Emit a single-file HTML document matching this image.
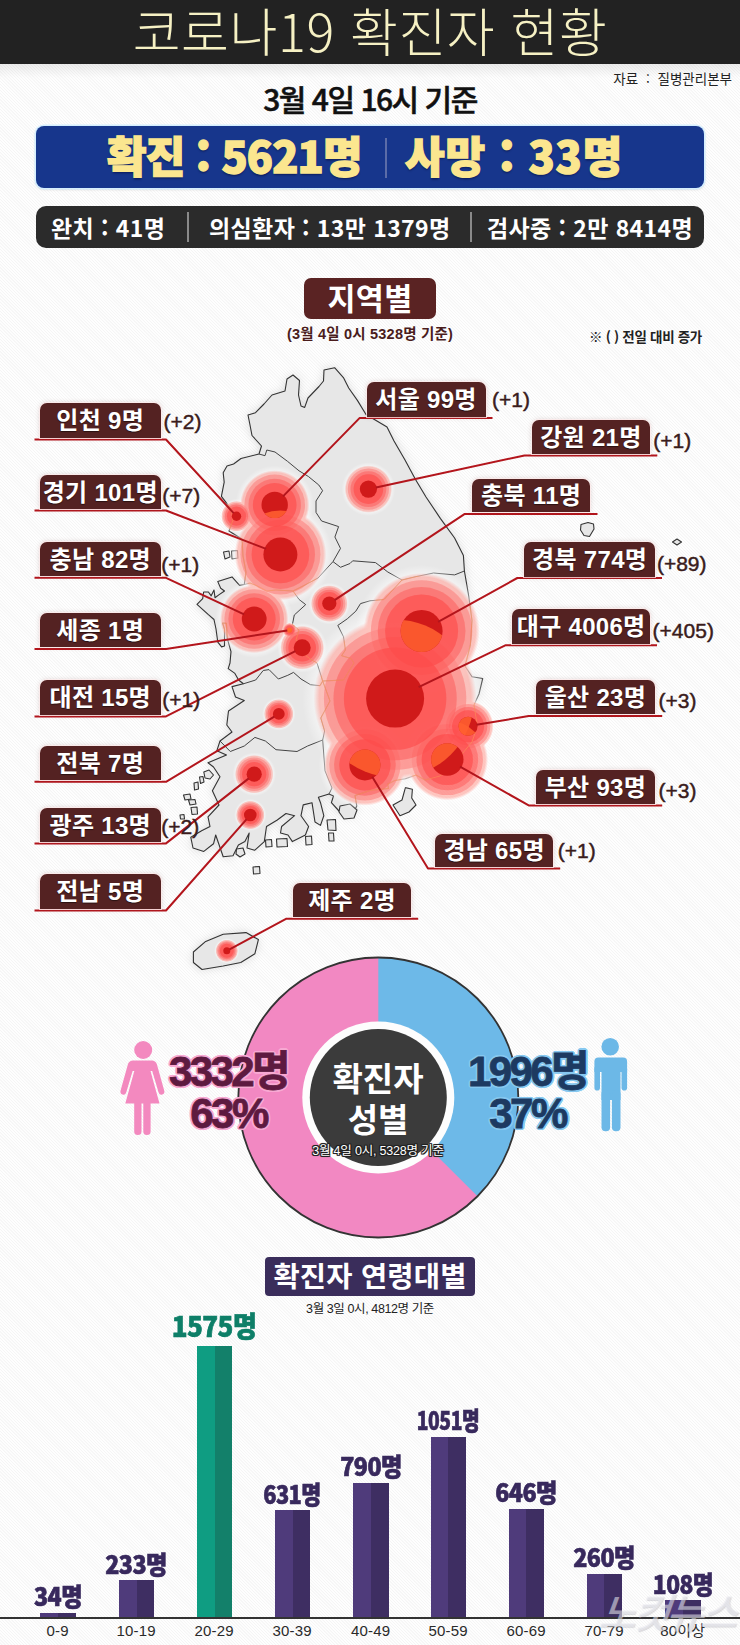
<!DOCTYPE html>
<html lang="ko"><head><meta charset="utf-8"><title>코로나19 확진자 현황</title>
<style>
html,body{margin:0;padding:0;}
body{width:740px;height:1645px;overflow:hidden;background:#f8f8f8;font-family:"Liberation Sans","Noto Sans CJK KR","NanumGothic",sans-serif;}
#wrap{position:relative;width:740px;height:1645px;overflow:hidden;background:#fafafa repeating-linear-gradient(45deg,#fefefe 0,#fefefe 1.1px,#f5f5f5 1.4px,#f5f5f5 2px,#fefefe 2.2px);}
.abs{position:absolute;white-space:nowrap;}
#hdr{left:0;top:0;width:740px;height:64px;background:#222222;color:#f6f1c4;text-align:center;font-family:"Noto Sans CJK KR","Liberation Sans",sans-serif;font-weight:300;font-size:52px;line-height:60px;letter-spacing:0.6px;}
#src{right:8px;top:70px;font-size:13.5px;word-spacing:4px;color:#222;font-family:"Noto Sans CJK KR",sans-serif;line-height:16px;}
#date{left:0;width:740px;top:80px;text-align:center;font-size:30px;font-weight:500;-webkit-text-stroke:0.5px #111;color:#111;font-family:"Noto Sans CJK KR",sans-serif;line-height:36px;letter-spacing:-1.5px;}
#blue{left:36px;top:126px;width:668px;height:62px;background:#17368c;border-radius:8px;box-shadow:0 0 0 1.5px #d5efff,0 1px 3px rgba(0,0,0,.25);}
#blue .t{color:#fbe68f;font-family:"Noto Sans CJK KR",sans-serif;font-weight:900;font-size:43px;line-height:62px;top:-3px;letter-spacing:-0.8px;-webkit-text-stroke:1.4px #fbe68f;text-shadow:0 2px 2px rgba(0,0,40,.45);}
#blue .sep{left:349px;top:12px;width:2px;height:40px;background:#5b6ca8;}
#dark{left:36px;top:206px;width:668px;height:42px;background:#2b2b2b;border-radius:10px;}
#dark .t{color:#fff;font-family:"Noto Sans CJK KR",sans-serif;font-weight:700;font-size:23px;line-height:42px;top:0;letter-spacing:0.4px;}
#dark .sep{top:6px;width:2px;height:30px;background:#8a8a8a;}
.ttl{background:#5a2323;color:#fff;border-radius:7px;text-align:center;font-family:"Noto Sans CJK KR",sans-serif;font-weight:700;}
.lb{background:#542222;border-radius:7px 7px 0 0;color:#fff;text-align:center;font-family:"Liberation Sans","Noto Sans CJK KR",sans-serif;font-weight:700;font-size:24px;letter-spacing:0.3px;text-shadow:0 1px 1px rgba(0,0,0,.5);box-shadow:0 0 0 1px rgba(255,235,235,.75),0 0 5px rgba(120,60,60,.25);}
.lb span{font-family:"Noto Sans CJK KR",sans-serif;}
.dl{font-family:"Liberation Sans",sans-serif;font-size:21px;color:#3a1c1c;letter-spacing:0;-webkit-text-stroke:0.45px #3a1c1c;}
</style></head><body><div id="wrap">

<svg class="abs" style="left:0;top:0" width="740" height="1645" viewBox="0 0 740 1645">
<defs>
<filter id="msh" x="-10%" y="-10%" width="120%" height="120%"><feGaussianBlur stdDeviation="5"/></filter>
<radialGradient id="halo"><stop offset="0" stop-color="#ff4a38" stop-opacity="1"/><stop offset=".93" stop-color="#ff4a38" stop-opacity="1"/><stop offset="1" stop-color="#ff4a38" stop-opacity="0"/></radialGradient>
<radialGradient id="wglow"><stop offset="0" stop-color="#fff" stop-opacity=".75"/><stop offset=".8" stop-color="#fff" stop-opacity=".7"/><stop offset="1" stop-color="#fff" stop-opacity="0"/></radialGradient>
</defs>
<g filter="url(#msh)" opacity=".35" fill="#999"><path d="M223.2 472.7 L227.0 466.0 L233.6 464.0 L241.0 458.5 L259.0 454.0 L261.5 446.0 L252.0 435.5 L250.0 425.0 L248.0 415.0 L255.5 412.7 L264.0 404.0 L272.0 395.0 L285.0 391.0 L287.0 379.0 L293.0 375.0 L299.5 380.5 L298.5 395.0 L301.0 406.0 L304.7 407.4 L308.0 398.0 L319.0 386.5 L323.5 381.0 L324.0 370.0 L334.6 367.7 L343.4 377.6 L348.7 388.0 L357.4 400.4 L366.0 414.5 L387.0 427.0 L394.0 441.0 L405.0 460.0 L415.5 479.5 L426.0 497.0 L440.5 518.6 L454.6 538.0 L463.4 555.5 L464.4 571.0 L468.7 596.0 L472.0 620.5 L470.4 645.0 L465.0 666.0 L472.0 676.8 L482.7 678.5 L479.0 694.0 L474.0 705.0 L477.4 726.0 L472.0 742.0 L462.0 754.0 L455.0 766.0 L440.0 776.0 L425.0 780.0 L416.0 775.0 L405.4 778.8 L394.9 780.5 L387.8 784.0 L388.4 788.5 L370.8 790.3 L355.0 795.5 L356.8 806.0 L351.5 816.6 L342.7 814.9 L339.0 811.0 L331.4 802.7 L333.5 796.0 L329.0 794.0 L318.4 797.3 L320.5 802.7 L323.8 815.7 L320.5 825.4 L315.0 822.0 L312.0 802.7 L303.2 804.9 L301.0 815.7 L308.6 826.5 L305.4 835.0 L292.4 841.6 L288.0 835.0 L280.5 833.0 L281.6 826.5 L294.6 815.7 L286.0 813.5 L277.3 820.0 L266.5 826.5 L264.3 841.6 L254.6 850.3 L247.0 848.0 L249.2 833.0 L244.9 841.6 L238.4 844.9 L233.0 855.7 L223.2 856.8 L215.7 835.0 L213.5 843.8 L203.8 851.4 L193.0 848.0 L190.8 837.3 L201.6 830.8 L210.0 826.5 L208.0 816.8 L219.0 805.0 L212.4 790.8 L220.0 776.8 L213.5 767.0 L208.0 762.7 L226.5 755.0 L216.8 750.8 L220.0 741.0 L232.0 732.0 L226.8 725.0 L228.5 711.0 L244.3 700.5 L235.5 697.0 L232.0 686.6 L243.4 683.8 L238.6 680.0 L234.9 673.4 L228.2 668.6 L230.0 663.0 L231.0 651.6 L227.3 638.4 L226.4 623.2 L222.6 623.0 L224.5 629.0 L224.5 646.0 L221.6 646.9 L217.8 642.2 L216.0 629.0 L214.0 619.5 L208.4 614.7 L197.0 604.3 L202.7 598.6 L203.6 592.0 L208.4 592.0 L211.2 595.8 L214.0 590.0 L215.0 597.7 L218.8 594.9 L224.5 591.0 L220.7 588.2 L217.8 581.6 L232.0 576.9 L239.6 585.4 L244.3 584.5 L246.0 572.0 L243.0 556.0 L242.0 539.0 L229.0 531.0 L233.0 520.0 L230.8 508.6 L221.4 496.3 L224.2 482.2 L223.2 472.7 Z"/><path d="M193.4 952.0 L205.7 941.4 L223.2 934.3 L246.0 932.6 L258.4 939.6 L254.9 953.7 L240.8 962.5 L223.2 966.0 L202.0 969.5 L193.4 962.5 Z"/></g>
<g fill="#e7e7e7" stroke="#333" stroke-width="1.1" stroke-linejoin="round">
<path d="M223.2 472.7 L227.0 466.0 L233.6 464.0 L241.0 458.5 L259.0 454.0 L261.5 446.0 L252.0 435.5 L250.0 425.0 L248.0 415.0 L255.5 412.7 L264.0 404.0 L272.0 395.0 L285.0 391.0 L287.0 379.0 L293.0 375.0 L299.5 380.5 L298.5 395.0 L301.0 406.0 L304.7 407.4 L308.0 398.0 L319.0 386.5 L323.5 381.0 L324.0 370.0 L334.6 367.7 L343.4 377.6 L348.7 388.0 L357.4 400.4 L366.0 414.5 L387.0 427.0 L394.0 441.0 L405.0 460.0 L415.5 479.5 L426.0 497.0 L440.5 518.6 L454.6 538.0 L463.4 555.5 L464.4 571.0 L468.7 596.0 L472.0 620.5 L470.4 645.0 L465.0 666.0 L472.0 676.8 L482.7 678.5 L479.0 694.0 L474.0 705.0 L477.4 726.0 L472.0 742.0 L462.0 754.0 L455.0 766.0 L440.0 776.0 L425.0 780.0 L416.0 775.0 L405.4 778.8 L394.9 780.5 L387.8 784.0 L388.4 788.5 L370.8 790.3 L355.0 795.5 L356.8 806.0 L351.5 816.6 L342.7 814.9 L339.0 811.0 L331.4 802.7 L333.5 796.0 L329.0 794.0 L318.4 797.3 L320.5 802.7 L323.8 815.7 L320.5 825.4 L315.0 822.0 L312.0 802.7 L303.2 804.9 L301.0 815.7 L308.6 826.5 L305.4 835.0 L292.4 841.6 L288.0 835.0 L280.5 833.0 L281.6 826.5 L294.6 815.7 L286.0 813.5 L277.3 820.0 L266.5 826.5 L264.3 841.6 L254.6 850.3 L247.0 848.0 L249.2 833.0 L244.9 841.6 L238.4 844.9 L233.0 855.7 L223.2 856.8 L215.7 835.0 L213.5 843.8 L203.8 851.4 L193.0 848.0 L190.8 837.3 L201.6 830.8 L210.0 826.5 L208.0 816.8 L219.0 805.0 L212.4 790.8 L220.0 776.8 L213.5 767.0 L208.0 762.7 L226.5 755.0 L216.8 750.8 L220.0 741.0 L232.0 732.0 L226.8 725.0 L228.5 711.0 L244.3 700.5 L235.5 697.0 L232.0 686.6 L243.4 683.8 L238.6 680.0 L234.9 673.4 L228.2 668.6 L230.0 663.0 L231.0 651.6 L227.3 638.4 L226.4 623.2 L222.6 623.0 L224.5 629.0 L224.5 646.0 L221.6 646.9 L217.8 642.2 L216.0 629.0 L214.0 619.5 L208.4 614.7 L197.0 604.3 L202.7 598.6 L203.6 592.0 L208.4 592.0 L211.2 595.8 L214.0 590.0 L215.0 597.7 L218.8 594.9 L224.5 591.0 L220.7 588.2 L217.8 581.6 L232.0 576.9 L239.6 585.4 L244.3 584.5 L246.0 572.0 L243.0 556.0 L242.0 539.0 L229.0 531.0 L233.0 520.0 L230.8 508.6 L221.4 496.3 L224.2 482.2 L223.2 472.7 Z"/>
<path d="M193.4 952.0 L205.7 941.4 L223.2 934.3 L246.0 932.6 L258.4 939.6 L254.9 953.7 L240.8 962.5 L223.2 966.0 L202.0 969.5 L193.4 962.5 Z"/>
<path d="M405.4 787.6 L412.4 789.3 L411.7 798.0 L416.0 805.0 L409.0 812.0 L400.0 815.7 L393.0 805.0 L402.0 800.0 Z"/>
<path d="M340.0 806.0 L350.0 804.0 L357.0 810.0 L354.0 818.0 L344.0 819.0 L339.0 812.0 Z"/>
<path d="M203.8 772.0 L209.0 770.0 L213.5 775.0 L210.0 779.0 L205.0 778.0 Z"/>
<path d="M199.5 777.0 L203.0 776.5 L204.0 782.0 L200.5 783.5 Z"/>
<path d="M194.0 783.0 L198.0 782.0 L198.5 789.0 L194.5 790.0 Z"/>
<path d="M183.5 795.0 L190.0 794.0 L191.0 799.0 L185.0 800.0 Z"/>
<path d="M188.5 800.0 L195.0 799.5 L196.0 804.0 L190.0 805.0 Z"/>
<path d="M191.0 807.5 L197.0 807.0 L197.5 814.0 L192.0 814.5 Z"/>
<path d="M180.0 815.0 L184.0 814.5 L184.5 819.0 L180.5 819.0 Z"/>
<path d="M236.5 849.0 L243.0 848.0 L245.0 854.0 L240.0 857.0 L236.0 854.0 Z"/>
<path d="M265.5 840.0 L271.5 839.5 L272.0 846.5 L266.0 847.0 Z"/>
<path d="M276.5 839.0 L287.0 838.5 L287.5 846.5 L277.0 847.0 Z"/>
<path d="M305.5 836.5 L311.5 836.0 L312.0 844.5 L306.0 845.0 Z"/>
<path d="M327.0 820.0 L335.5 819.5 L336.0 830.5 L328.0 830.0 Z"/>
<path d="M328.5 833.0 L333.5 833.0 L334.0 841.0 L329.0 841.0 Z"/>
<path d="M253.0 867.0 L259.5 866.5 L260.0 873.5 L253.5 874.0 Z"/>
<path d="M223.5 552.0 L229.0 551.0 L230.0 557.0 L225.0 559.0 Z"/>
<path d="M231.5 551.0 L237.5 550.5 L238.0 558.0 L232.0 559.0 Z"/>
<path d="M581.0 524.5 L588.0 522.5 L593.5 524.0 L594.0 529.0 L589.5 536.5 L584.0 535.5 L580.5 530.0 Z"/>
<path d="M672.5 542.0 L677.0 539.0 L681.5 542.0 L677.0 545.0 Z"/>
</g>
<g fill="none" stroke="#444" stroke-width="1" stroke-linejoin="round">
<path d="M259.0 454.0 L265.0 455.7 L266.8 450.0 L275.0 452.0 L287.6 461.4 L299.0 470.8 L308.4 476.5 L318.8 485.0 L322.6 490.7 L316.0 501.0 L316.0 512.4 L321.6 521.0 L338.6 526.6 L334.9 537.0 L340.5 548.4 L333.0 561.6 L340.5 567.3 L350.0 563.5"/>
<path d="M350.0 563.5 L352.7 560.8 L375.5 562.6 L387.8 572.0 L402.0 580.0 L416.0 576.6 L433.5 573.0 L454.6 574.9 L464.4 571.0"/>
<path d="M244.3 584.5 L250.0 583.0 L257.3 586.0 L266.8 591.0 L276.0 590.0 L293.0 591.0 L299.0 599.4 L305.7 604.6 L294.3 615.0 L292.4 624.5 L299.0 630.0"/>
<path d="M293.0 591.0 L305.0 585.0 L318.0 578.0 L333.0 561.6"/>
<path d="M402.0 580.0 L384.0 599.5 L370.0 600.8 L360.5 603.6 L355.8 611.2 L347.3 618.8 L337.8 625.4 L343.5 636.8 L345.4 650.0 L341.6 655.7 L351.0 658.5 L354.0 663.0 L343.5 680.0 L322.7 681.0"/>
<path d="M299.0 630.0 L296.0 640.0 L305.0 655.0 L311.0 659.5 L317.0 663.0 L322.7 681.0"/>
<path d="M243.4 683.8 L255.7 680.0 L263.2 670.5 L269.0 669.6 L278.4 679.0 L287.8 675.3 L293.5 672.4 L301.0 679.0 L310.5 684.7 L320.0 685.7 L322.7 681.0"/>
<path d="M220.0 741.0 L230.3 751.5 L244.3 746.0 L254.9 737.4 L265.4 741.0 L276.0 749.7 L297.0 751.5 L307.6 746.0 L322.7 740.0"/>
<path d="M322.7 681.0 L330.0 701.0 L320.8 718.0 L324.6 731.0 L322.7 740.0 L325.0 770.8 L332.0 788.0 L329.0 794.0"/>
</g>
<circle cx="289.6" cy="630.1" r="8.1" fill="url(#wglow)"/>
<circle cx="226.8" cy="950.8" r="12.8" fill="url(#wglow)"/>
<circle cx="250.3" cy="815.0" r="16.2" fill="url(#wglow)"/>
<circle cx="278.8" cy="713.9" r="16.8" fill="url(#wglow)"/>
<circle cx="236.5" cy="516.2" r="17.4" fill="url(#wglow)"/>
<circle cx="329.3" cy="603.6" r="20.9" fill="url(#wglow)"/>
<circle cx="254.2" cy="774.2" r="21.9" fill="url(#wglow)"/>
<circle cx="302.2" cy="647.7" r="24.9" fill="url(#wglow)"/>
<circle cx="368.4" cy="489.1" r="26.9" fill="url(#wglow)"/>
<circle cx="468.1" cy="726.2" r="29.0" fill="url(#wglow)"/>
<circle cx="254.2" cy="619.0" r="38.9" fill="url(#wglow)"/>
<circle cx="274.7" cy="504.9" r="39.4" fill="url(#wglow)"/>
<circle cx="447.3" cy="759.5" r="46.4" fill="url(#wglow)"/>
<circle cx="364.9" cy="764.9" r="46.4" fill="url(#wglow)"/>
<circle cx="280.4" cy="554.4" r="52.2" fill="url(#wglow)"/>
<circle cx="421.6" cy="631.0" r="66.1" fill="url(#wglow)"/>
<circle cx="395.1" cy="698.6" r="92.8" fill="url(#wglow)"/>
<g opacity=".31">
<circle cx="289.6" cy="630.1" r="7.1" fill="url(#halo)"/>
<circle cx="226.8" cy="950.8" r="11.2" fill="url(#halo)"/>
<circle cx="250.3" cy="815.0" r="14.3" fill="url(#halo)"/>
<circle cx="278.8" cy="713.9" r="14.8" fill="url(#halo)"/>
<circle cx="236.5" cy="516.2" r="15.3" fill="url(#halo)"/>
<circle cx="329.3" cy="603.6" r="18.4" fill="url(#halo)"/>
<circle cx="254.2" cy="774.2" r="19.3" fill="url(#halo)"/>
<circle cx="302.2" cy="647.7" r="21.9" fill="url(#halo)"/>
<circle cx="368.4" cy="489.1" r="23.7" fill="url(#halo)"/>
<circle cx="468.1" cy="726.2" r="25.5" fill="url(#halo)"/>
<circle cx="254.2" cy="619.0" r="34.2" fill="url(#halo)"/>
<circle cx="274.7" cy="504.9" r="34.7" fill="url(#halo)"/>
<circle cx="447.3" cy="759.5" r="40.8" fill="url(#halo)"/>
<circle cx="364.9" cy="764.9" r="40.8" fill="url(#halo)"/>
<circle cx="280.4" cy="554.4" r="45.9" fill="url(#halo)"/>
<circle cx="421.6" cy="631.0" r="58.1" fill="url(#halo)"/>
<circle cx="395.1" cy="698.6" r="81.6" fill="url(#halo)"/>
</g>
<g opacity="0.18" fill="#ff4040">
<circle cx="289.6" cy="630.1" r="6.2"/>
<circle cx="226.8" cy="950.8" r="9.8"/>
<circle cx="250.3" cy="815.0" r="12.5"/>
<circle cx="278.8" cy="713.9" r="12.9"/>
<circle cx="236.5" cy="516.2" r="13.3"/>
<circle cx="329.3" cy="603.6" r="16.0"/>
<circle cx="254.2" cy="774.2" r="16.8"/>
<circle cx="302.2" cy="647.7" r="19.1"/>
<circle cx="368.4" cy="489.1" r="20.6"/>
<circle cx="468.1" cy="726.2" r="22.2"/>
<circle cx="254.2" cy="619.0" r="29.8"/>
<circle cx="274.7" cy="504.9" r="30.3"/>
<circle cx="447.3" cy="759.5" r="35.6"/>
<circle cx="364.9" cy="764.9" r="35.6"/>
<circle cx="280.4" cy="554.4" r="40.0"/>
<circle cx="421.6" cy="631.0" r="50.7"/>
<circle cx="395.1" cy="698.6" r="71.2"/>
</g>
<g fill="#ff4040" fill-opacity="0.13">
<circle cx="289.6" cy="630.1" r="6.2"/>
<circle cx="226.8" cy="950.8" r="9.8"/>
<circle cx="250.3" cy="815.0" r="12.5"/>
<circle cx="278.8" cy="713.9" r="12.9"/>
<circle cx="236.5" cy="516.2" r="13.3"/>
<circle cx="329.3" cy="603.6" r="16.0"/>
<circle cx="254.2" cy="774.2" r="16.8"/>
<circle cx="302.2" cy="647.7" r="19.1"/>
<circle cx="368.4" cy="489.1" r="20.6"/>
<circle cx="468.1" cy="726.2" r="22.2"/>
<circle cx="254.2" cy="619.0" r="29.8"/>
<circle cx="274.7" cy="504.9" r="30.3"/>
<circle cx="447.3" cy="759.5" r="35.6"/>
<circle cx="364.9" cy="764.9" r="35.6"/>
<circle cx="280.4" cy="554.4" r="40.0"/>
<circle cx="421.6" cy="631.0" r="50.7"/>
<circle cx="395.1" cy="698.6" r="71.2"/>
</g>
<g opacity="0.22" fill="#ff4040">
<circle cx="289.6" cy="630.1" r="5.4"/>
<circle cx="226.8" cy="950.8" r="8.5"/>
<circle cx="250.3" cy="815.0" r="10.8"/>
<circle cx="278.8" cy="713.9" r="11.2"/>
<circle cx="236.5" cy="516.2" r="11.6"/>
<circle cx="329.3" cy="603.6" r="13.9"/>
<circle cx="254.2" cy="774.2" r="14.6"/>
<circle cx="302.2" cy="647.7" r="16.6"/>
<circle cx="368.4" cy="489.1" r="17.9"/>
<circle cx="468.1" cy="726.2" r="19.2"/>
<circle cx="254.2" cy="619.0" r="25.8"/>
<circle cx="274.7" cy="504.9" r="26.2"/>
<circle cx="447.3" cy="759.5" r="30.8"/>
<circle cx="364.9" cy="764.9" r="30.8"/>
<circle cx="280.4" cy="554.4" r="34.6"/>
<circle cx="421.6" cy="631.0" r="43.9"/>
<circle cx="395.1" cy="698.6" r="61.6"/>
</g>
<g fill="#ff4040" fill-opacity="0.18">
<circle cx="289.6" cy="630.1" r="5.4"/>
<circle cx="226.8" cy="950.8" r="8.5"/>
<circle cx="250.3" cy="815.0" r="10.8"/>
<circle cx="278.8" cy="713.9" r="11.2"/>
<circle cx="236.5" cy="516.2" r="11.6"/>
<circle cx="329.3" cy="603.6" r="13.9"/>
<circle cx="254.2" cy="774.2" r="14.6"/>
<circle cx="302.2" cy="647.7" r="16.6"/>
<circle cx="368.4" cy="489.1" r="17.9"/>
<circle cx="468.1" cy="726.2" r="19.2"/>
<circle cx="254.2" cy="619.0" r="25.8"/>
<circle cx="274.7" cy="504.9" r="26.2"/>
<circle cx="447.3" cy="759.5" r="30.8"/>
<circle cx="364.9" cy="764.9" r="30.8"/>
<circle cx="280.4" cy="554.4" r="34.6"/>
<circle cx="421.6" cy="631.0" r="43.9"/>
<circle cx="395.1" cy="698.6" r="61.6"/>
</g>
<g opacity="0.31" fill="#ff4040">
<circle cx="289.6" cy="630.1" r="4.5"/>
<circle cx="226.8" cy="950.8" r="7.0"/>
<circle cx="250.3" cy="815.0" r="9.0"/>
<circle cx="278.8" cy="713.9" r="9.3"/>
<circle cx="236.5" cy="516.2" r="9.6"/>
<circle cx="329.3" cy="603.6" r="11.5"/>
<circle cx="254.2" cy="774.2" r="12.1"/>
<circle cx="302.2" cy="647.7" r="13.8"/>
<circle cx="368.4" cy="489.1" r="14.8"/>
<circle cx="468.1" cy="726.2" r="16.0"/>
<circle cx="254.2" cy="619.0" r="21.4"/>
<circle cx="274.7" cy="504.9" r="21.8"/>
<circle cx="447.3" cy="759.5" r="25.6"/>
<circle cx="364.9" cy="764.9" r="25.6"/>
<circle cx="280.4" cy="554.4" r="28.8"/>
<circle cx="421.6" cy="631.0" r="36.5"/>
<circle cx="395.1" cy="698.6" r="51.2"/>
</g>
<g fill="#ff4040" fill-opacity="0.28">
<circle cx="289.6" cy="630.1" r="4.5"/>
<circle cx="226.8" cy="950.8" r="7.0"/>
<circle cx="250.3" cy="815.0" r="9.0"/>
<circle cx="278.8" cy="713.9" r="9.3"/>
<circle cx="236.5" cy="516.2" r="9.6"/>
<circle cx="329.3" cy="603.6" r="11.5"/>
<circle cx="254.2" cy="774.2" r="12.1"/>
<circle cx="302.2" cy="647.7" r="13.8"/>
<circle cx="368.4" cy="489.1" r="14.8"/>
<circle cx="468.1" cy="726.2" r="16.0"/>
<circle cx="254.2" cy="619.0" r="21.4"/>
<circle cx="274.7" cy="504.9" r="21.8"/>
<circle cx="447.3" cy="759.5" r="25.6"/>
<circle cx="364.9" cy="764.9" r="25.6"/>
<circle cx="280.4" cy="554.4" r="28.8"/>
<circle cx="421.6" cy="631.0" r="36.5"/>
<circle cx="395.1" cy="698.6" r="51.2"/>
</g>
<defs><clipPath id="cp-all"><circle cx="289.6" cy="630.1" r="6.8"/><circle cx="226.8" cy="950.8" r="10.7"/><circle cx="250.3" cy="815.0" r="13.6"/><circle cx="278.8" cy="713.9" r="14.1"/><circle cx="236.5" cy="516.2" r="14.5"/><circle cx="329.3" cy="603.6" r="17.5"/><circle cx="254.2" cy="774.2" r="18.3"/><circle cx="302.2" cy="647.7" r="20.9"/><circle cx="368.4" cy="489.1" r="22.5"/><circle cx="468.1" cy="726.2" r="24.2"/><circle cx="254.2" cy="619.0" r="32.5"/><circle cx="274.7" cy="504.9" r="33.0"/><circle cx="447.3" cy="759.5" r="38.8"/><circle cx="364.9" cy="764.9" r="38.8"/><circle cx="280.4" cy="554.4" r="43.6"/><circle cx="421.6" cy="631.0" r="55.3"/><circle cx="395.1" cy="698.6" r="77.6"/></clipPath></defs>
<g clip-path="url(#cp-all)" fill="none" stroke="#ff9a5c" stroke-opacity=".6" stroke-width="0.9" stroke-linejoin="round">
<path d="M223.2 472.7 L227.0 466.0 L233.6 464.0 L241.0 458.5 L259.0 454.0 L261.5 446.0 L252.0 435.5 L250.0 425.0 L248.0 415.0 L255.5 412.7 L264.0 404.0 L272.0 395.0 L285.0 391.0 L287.0 379.0 L293.0 375.0 L299.5 380.5 L298.5 395.0 L301.0 406.0 L304.7 407.4 L308.0 398.0 L319.0 386.5 L323.5 381.0 L324.0 370.0 L334.6 367.7 L343.4 377.6 L348.7 388.0 L357.4 400.4 L366.0 414.5 L387.0 427.0 L394.0 441.0 L405.0 460.0 L415.5 479.5 L426.0 497.0 L440.5 518.6 L454.6 538.0 L463.4 555.5 L464.4 571.0 L468.7 596.0 L472.0 620.5 L470.4 645.0 L465.0 666.0 L472.0 676.8 L482.7 678.5 L479.0 694.0 L474.0 705.0 L477.4 726.0 L472.0 742.0 L462.0 754.0 L455.0 766.0 L440.0 776.0 L425.0 780.0 L416.0 775.0 L405.4 778.8 L394.9 780.5 L387.8 784.0 L388.4 788.5 L370.8 790.3 L355.0 795.5 L356.8 806.0 L351.5 816.6 L342.7 814.9 L339.0 811.0 L331.4 802.7 L333.5 796.0 L329.0 794.0 L318.4 797.3 L320.5 802.7 L323.8 815.7 L320.5 825.4 L315.0 822.0 L312.0 802.7 L303.2 804.9 L301.0 815.7 L308.6 826.5 L305.4 835.0 L292.4 841.6 L288.0 835.0 L280.5 833.0 L281.6 826.5 L294.6 815.7 L286.0 813.5 L277.3 820.0 L266.5 826.5 L264.3 841.6 L254.6 850.3 L247.0 848.0 L249.2 833.0 L244.9 841.6 L238.4 844.9 L233.0 855.7 L223.2 856.8 L215.7 835.0 L213.5 843.8 L203.8 851.4 L193.0 848.0 L190.8 837.3 L201.6 830.8 L210.0 826.5 L208.0 816.8 L219.0 805.0 L212.4 790.8 L220.0 776.8 L213.5 767.0 L208.0 762.7 L226.5 755.0 L216.8 750.8 L220.0 741.0 L232.0 732.0 L226.8 725.0 L228.5 711.0 L244.3 700.5 L235.5 697.0 L232.0 686.6 L243.4 683.8 L238.6 680.0 L234.9 673.4 L228.2 668.6 L230.0 663.0 L231.0 651.6 L227.3 638.4 L226.4 623.2 L222.6 623.0 L224.5 629.0 L224.5 646.0 L221.6 646.9 L217.8 642.2 L216.0 629.0 L214.0 619.5 L208.4 614.7 L197.0 604.3 L202.7 598.6 L203.6 592.0 L208.4 592.0 L211.2 595.8 L214.0 590.0 L215.0 597.7 L218.8 594.9 L224.5 591.0 L220.7 588.2 L217.8 581.6 L232.0 576.9 L239.6 585.4 L244.3 584.5 L246.0 572.0 L243.0 556.0 L242.0 539.0 L229.0 531.0 L233.0 520.0 L230.8 508.6 L221.4 496.3 L224.2 482.2 L223.2 472.7 Z"/>
<path d="M259.0 454.0 L265.0 455.7 L266.8 450.0 L275.0 452.0 L287.6 461.4 L299.0 470.8 L308.4 476.5 L318.8 485.0 L322.6 490.7 L316.0 501.0 L316.0 512.4 L321.6 521.0 L338.6 526.6 L334.9 537.0 L340.5 548.4 L333.0 561.6 L340.5 567.3 L350.0 563.5"/>
<path d="M350.0 563.5 L352.7 560.8 L375.5 562.6 L387.8 572.0 L402.0 580.0 L416.0 576.6 L433.5 573.0 L454.6 574.9 L464.4 571.0"/>
<path d="M244.3 584.5 L250.0 583.0 L257.3 586.0 L266.8 591.0 L276.0 590.0 L293.0 591.0 L299.0 599.4 L305.7 604.6 L294.3 615.0 L292.4 624.5 L299.0 630.0"/>
<path d="M293.0 591.0 L305.0 585.0 L318.0 578.0 L333.0 561.6"/>
<path d="M402.0 580.0 L384.0 599.5 L370.0 600.8 L360.5 603.6 L355.8 611.2 L347.3 618.8 L337.8 625.4 L343.5 636.8 L345.4 650.0 L341.6 655.7 L351.0 658.5 L354.0 663.0 L343.5 680.0 L322.7 681.0"/>
<path d="M299.0 630.0 L296.0 640.0 L305.0 655.0 L311.0 659.5 L317.0 663.0 L322.7 681.0"/>
<path d="M243.4 683.8 L255.7 680.0 L263.2 670.5 L269.0 669.6 L278.4 679.0 L287.8 675.3 L293.5 672.4 L301.0 679.0 L310.5 684.7 L320.0 685.7 L322.7 681.0"/>
<path d="M220.0 741.0 L230.3 751.5 L244.3 746.0 L254.9 737.4 L265.4 741.0 L276.0 749.7 L297.0 751.5 L307.6 746.0 L322.7 740.0"/>
<path d="M322.7 681.0 L330.0 701.0 L320.8 718.0 L324.6 731.0 L322.7 740.0 L325.0 770.8 L332.0 788.0 L329.0 794.0"/>
</g>
<circle cx="289.6" cy="630.1" r="2.6" fill="#ff6a2c"/>
<circle cx="226.8" cy="950.8" r="3.5" fill="#d01a1a"/>
<circle cx="250.3" cy="815.0" r="6.3" fill="#d01a1a"/>
<circle cx="278.8" cy="713.9" r="5.9" fill="#d01a1a"/>
<circle cx="236.5" cy="516.2" r="4.7" fill="#d01a1a"/>
<circle cx="329.3" cy="603.6" r="7.1" fill="#d01a1a"/>
<circle cx="254.2" cy="774.2" r="7.6" fill="#d01a1a"/>
<circle cx="302.2" cy="647.7" r="8.5" fill="#d01a1a"/>
<circle cx="368.4" cy="489.1" r="8.6" fill="#d01a1a"/>
<circle cx="468.1" cy="726.2" r="9.5" fill="#d01a1a"/>
<circle cx="254.2" cy="619.0" r="12.4" fill="#d01a1a"/>
<circle cx="274.7" cy="504.9" r="13.2" fill="#d01a1a"/>
<circle cx="447.3" cy="759.5" r="16.2" fill="#d01a1a"/>
<circle cx="364.9" cy="764.9" r="15.5" fill="#d01a1a"/>
<circle cx="280.4" cy="554.4" r="17.0" fill="#d01a1a"/>
<circle cx="421.6" cy="631.0" r="21.0" fill="#d01a1a"/>
<circle cx="395.1" cy="698.6" r="29.0" fill="#d01a1a"/>
<defs><clipPath id="cp-busan"><circle cx="447.3" cy="759.5" r="39.0"/></clipPath><clipPath id="cp-daegu"><circle cx="395.1" cy="698.6" r="79.0"/></clipPath><clipPath id="cp-daejeon"><circle cx="302.2" cy="647.7" r="20.5"/></clipPath><clipPath id="cp-gyeonggi"><circle cx="280.4" cy="554.4" r="44.0"/></clipPath></defs>
<circle cx="289.6" cy="630.1" r="2.6" fill="#ff6030" fill-opacity=".88" clip-path="url(#cp-daejeon)"/>
<circle cx="468.1" cy="726.2" r="9.5" fill="#ff6030" fill-opacity=".88" clip-path="url(#cp-busan)"/>
<circle cx="468.1" cy="726.2" r="9.5" fill="#ff6030" fill-opacity=".88" clip-path="url(#cp-daegu)"/>
<circle cx="274.7" cy="504.9" r="13.2" fill="#ff6030" fill-opacity=".88" clip-path="url(#cp-gyeonggi)"/>
<circle cx="447.3" cy="759.5" r="16.2" fill="#ff6030" fill-opacity=".88" clip-path="url(#cp-daegu)"/>
<circle cx="364.9" cy="764.9" r="15.5" fill="#ff6030" fill-opacity=".88" clip-path="url(#cp-daegu)"/>
<circle cx="421.6" cy="631.0" r="21.0" fill="#ff6030" fill-opacity=".88" clip-path="url(#cp-daegu)"/>
<g stroke="#b3151c" stroke-width="2" fill="none" stroke-linejoin="round">
<path d="M34.5 439.5 L166.0 439.5 L233.6 513.1"/>
<path d="M34.5 510.5 L166.0 510.5 L266.1 548.9"/>
<path d="M34.5 577.8 L166.0 577.8 L244.1 614.3"/>
<path d="M34.5 648.9 L166.0 648.9 L287.3 630.5"/>
<path d="M34.5 716.4 L166.0 716.4 L295.4 651.1"/>
<path d="M34.5 781.8 L166.0 781.8 L274.3 716.6"/>
<path d="M34.5 843.4 L166.0 843.4 L248.8 778.4"/>
<path d="M34.5 910.5 L166.0 910.5 L246.5 819.3"/>
<path d="M492.5 418.1 L359.5 418.1 L283.0 496.4"/>
<path d="M657.3 455.4 L524.5 455.4 L376.0 487.5"/>
<path d="M597.5 513.9 L464.8 513.9 L334.6 600.1"/>
<path d="M662.0 578.0 L517.3 578.0 L438.1 621.8"/>
<path d="M657.0 645.3 L505.3 645.3 L418.6 687.2"/>
<path d="M662.2 716.0 L528.7 716.0 L476.5 724.8"/>
<path d="M662.2 805.4 L528.7 805.4 L460.0 766.7"/>
<path d="M560.2 868.5 L428.0 868.5 L372.2 776.8"/>
<path d="M418.2 918.8 L286.0 918.8 L229.6 949.3"/>
</g>
</svg>
<div class="abs" style="left:0;top:64px;width:740px;height:14px;background:linear-gradient(180deg,rgba(0,0,0,.07),rgba(0,0,0,0));"></div>
<div id="hdr" class="abs">코로나19 확진자 현황</div>
<div id="src" class="abs">자료 : 질병관리본부</div>
<div id="date" class="abs">3월 4일 16시 기준</div>
<div id="blue" class="abs"><div class="abs t" style="left:71px">확진 : 5621명</div><div class="abs sep"></div><div class="abs t" style="left:369px;letter-spacing:1px">사망 : 33명</div></div>
<div id="dark" class="abs"><div class="abs t" style="left:15px">완치 : 41명</div><div class="abs sep" style="left:151px"></div><div class="abs t" style="left:173px">의심환자 : 13만 1379명</div><div class="abs sep" style="left:434px"></div><div class="abs t" style="left:451px">검사중 : 2만 8414명</div></div>
<div class="abs ttl" style="left:304px;top:278px;width:132px;height:41px;font-size:30.5px;line-height:39px;letter-spacing:0.3px;">지역별</div>
<div class="abs" style="left:0;width:740px;text-align:center;top:325px;font-size:14.5px;font-weight:700;color:#4a1c1c;font-family:'Liberation Sans','Noto Sans CJK KR',sans-serif;letter-spacing:0.2px;line-height:18px;">(3월 4일 0시 5328명 기준)</div>
<div class="abs" style="right:38px;top:328px;font-size:13.5px;color:#222;font-weight:700;font-family:'Noto Sans CJK KR',sans-serif;letter-spacing:-0.3px;line-height:16px;">※ ( ) 전일 대비 증가</div>
<div class="abs lb" style="left:40.0px;top:402.5px;width:120.5px;height:35.5px;line-height:36.5px;">인천 9명</div>
<div class="abs dl" style="left:163.6px;top:409.5px;line-height:24px;">(+2)</div>
<div class="abs lb" style="left:40.0px;top:474.5px;width:120.5px;height:34.5px;line-height:35.5px;">경기 101명</div>
<div class="abs dl" style="left:162.3px;top:483.9px;line-height:24px;">(+7)</div>
<div class="abs lb" style="left:40.0px;top:542.3px;width:120.5px;height:34.0px;line-height:35.0px;">충남 82명</div>
<div class="abs dl" style="left:161.3px;top:552.5px;line-height:24px;">(+1)</div>
<div class="abs lb" style="left:40.0px;top:612.7px;width:120.5px;height:34.7px;line-height:35.7px;">세종 1명</div>
<div class="abs lb" style="left:40.0px;top:680.0px;width:120.5px;height:34.9px;line-height:35.9px;">대전 15명</div>
<div class="abs dl" style="left:162.3px;top:688.1px;line-height:24px;">(+1)</div>
<div class="abs lb" style="left:40.0px;top:745.6px;width:120.5px;height:34.7px;line-height:35.7px;">전북 7명</div>
<div class="abs lb" style="left:40.0px;top:807.8px;width:120.5px;height:34.1px;line-height:35.1px;">광주 13명</div>
<div class="abs dl" style="left:161.3px;top:815.4px;line-height:24px;">(+2)</div>
<div class="abs lb" style="left:40.0px;top:873.7px;width:120.5px;height:35.3px;line-height:36.3px;">전남 5명</div>
<div class="abs lb" style="left:366.5px;top:381.6px;width:119.0px;height:35.0px;line-height:36.0px;">서울 99명</div>
<div class="abs dl" style="left:492.1px;top:388.3px;line-height:24px;">(+1)</div>
<div class="abs lb" style="left:531.5px;top:419.8px;width:118.8px;height:34.1px;line-height:35.1px;">강원 21명</div>
<div class="abs dl" style="left:653.3px;top:428.5px;line-height:24px;">(+1)</div>
<div class="abs lb" style="left:471.8px;top:478.5px;width:118.7px;height:33.9px;line-height:34.9px;">충북 11명</div>
<div class="abs lb" style="left:524.3px;top:542.0px;width:130.7px;height:34.5px;line-height:35.5px;">경북 774명</div>
<div class="abs dl" style="left:656.9px;top:551.8px;line-height:24px;">(+89)</div>
<div class="abs lb" style="left:512.3px;top:609.0px;width:137.7px;height:34.8px;line-height:35.8px;">대구 4006명</div>
<div class="abs dl" style="left:652.6px;top:618.5px;line-height:24px;">(+405)</div>
<div class="abs lb" style="left:535.7px;top:680.4px;width:119.5px;height:34.1px;line-height:35.1px;">울산 23명</div>
<div class="abs dl" style="left:658.6px;top:688.9px;line-height:24px;">(+3)</div>
<div class="abs lb" style="left:535.7px;top:769.6px;width:119.5px;height:34.3px;line-height:35.3px;">부산 93명</div>
<div class="abs dl" style="left:658.6px;top:779.1px;line-height:24px;">(+3)</div>
<div class="abs lb" style="left:435.0px;top:833.5px;width:118.2px;height:33.5px;line-height:34.5px;">경남 65명</div>
<div class="abs dl" style="left:557.8px;top:839.2px;line-height:24px;">(+1)</div>
<div class="abs lb" style="left:293.0px;top:882.8px;width:118.2px;height:34.5px;line-height:35.5px;">제주 2명</div>
<svg class="abs" style="left:0;top:940px" width="740" height="320" viewBox="0 940 740 320">
<circle cx="378.3" cy="1097.5" r="140" fill="#f288c2"/>
<path d="M378.3 1097.5 L378.3 957.5 A140 140 0 0 1 477.5 1196.2 Z" fill="#6db9e8"/>
<circle cx="378.3" cy="1097.5" r="140" fill="none" stroke="#333" stroke-width="1.8"/>
<circle cx="378.3" cy="1097.5" r="76" fill="#fdfdfd"/>
<circle cx="378.3" cy="1097.5" r="68.5" fill="#3b3b3b"/>
<g fill="#f389bf"><circle cx="143.2" cy="1050" r="9"/><path d="M134.500 1060.400 h17.400 q3.600 0 4.900 3.600 l7.400 26.500 q.9 3.200-1.900 4.100 q-2.800.9-3.800-2.300 l-6.300-21.400 h-1.700 l9 32.700 h-8.900 v27.900 q0 3.500-3.700 3.500 q-3.600 0-3.600-3.500 v-27.900 h-1.800 v27.900 q0 3.500-3.600 3.500 q-3.700 0-3.700-3.500 v-27.900 h-8.900 l9-32.700 h-1.700 l-6.300 21.400 q-1 3.200-3.800 2.300 q-2.800-.9-1.900-4.100 l7.400-26.500 q1.300-3.600 4.900-3.600 z"/></g>
<g fill="#6cb8e7"><circle cx="610.2" cy="1046.8" r="8.8"/><path d="M598.400 1057.400 h24.700 q4 0 4 4 v10.600 h-32.700 v-10.600 q0-4 4-4 z"/><rect x="594.4" y="1066" width="5.600" height="24.600" rx="2.800"/><rect x="621.5" y="1066" width="5.600" height="24.600" rx="2.800"/><rect x="601.5" y="1060" width="19" height="40"/><rect x="601.5" y="1090" width="8.600" height="41.200" rx="4"/><rect x="611.9" y="1090" width="8.600" height="41.200" rx="4"/></g>
</svg>
<div class="abs" style="left:308px;width:140px;top:1056.5px;text-align:center;color:#fff;font-family:'Noto Sans CJK KR',sans-serif;font-weight:700;font-size:33px;line-height:41px;letter-spacing:0;">확진자<br>성별</div>
<div class="abs" style="left:278px;width:200px;top:1143.5px;text-align:center;color:#fff;font-family:'Liberation Sans','Noto Sans CJK KR',sans-serif;font-size:12.5px;line-height:14px;letter-spacing:-0.2px;text-shadow:1px 0 0 #222,-1px 0 0 #222,0 1px 0 #222,0 -1px 0 #222,1px 1px 0 #222,-1px -1px 0 #222,1px -1px 0 #222,-1px 1px 0 #222,0 0 2px #000;">3월 4일 0시, 5328명 기준</div>
<div class="abs" style="left:150px;width:157px;top:1051px;font-family:'Liberation Sans','Noto Sans CJK KR',sans-serif;font-weight:700;font-size:42px;line-height:41.5px;letter-spacing:-2.6px;text-align:center;color:#5e1a40;-webkit-text-stroke:0.8px #5e1a40;text-shadow:2.0px 0.0px 0 #f8a9d3,1.8px 0.8px 0 #f8a9d3,1.4px 1.4px 0 #f8a9d3,0.8px 1.8px 0 #f8a9d3,0.0px 2.0px 0 #f8a9d3,-0.8px 1.8px 0 #f8a9d3,-1.4px 1.4px 0 #f8a9d3,-1.8px 0.8px 0 #f8a9d3,-2.0px 0.0px 0 #f8a9d3,-1.8px -0.8px 0 #f8a9d3,-1.4px -1.4px 0 #f8a9d3,-0.8px -1.8px 0 #f8a9d3,-0.0px -2.0px 0 #f8a9d3,0.8px -1.8px 0 #f8a9d3,1.4px -1.4px 0 #f8a9d3,1.8px -0.8px 0 #f8a9d3,0 0 3px #f8a9d3;">3332명<br>63%</div>
<div class="abs" style="left:449px;width:157px;top:1051px;font-family:'Liberation Sans','Noto Sans CJK KR',sans-serif;font-weight:700;font-size:42px;line-height:41.5px;letter-spacing:-2.6px;text-align:center;color:#1d3a61;-webkit-text-stroke:0.8px #1d3a61;text-shadow:2.0px 0.0px 0 #86c8f0,1.8px 0.8px 0 #86c8f0,1.4px 1.4px 0 #86c8f0,0.8px 1.8px 0 #86c8f0,0.0px 2.0px 0 #86c8f0,-0.8px 1.8px 0 #86c8f0,-1.4px 1.4px 0 #86c8f0,-1.8px 0.8px 0 #86c8f0,-2.0px 0.0px 0 #86c8f0,-1.8px -0.8px 0 #86c8f0,-1.4px -1.4px 0 #86c8f0,-0.8px -1.8px 0 #86c8f0,-0.0px -2.0px 0 #86c8f0,0.8px -1.8px 0 #86c8f0,1.4px -1.4px 0 #86c8f0,1.8px -0.8px 0 #86c8f0,0 0 3px #86c8f0;">1996명<br>37%</div>
<div class="abs" style="left:265px;top:1257px;width:210px;height:39px;background:#3a2d5b;border-radius:4px;color:#fff;text-align:center;font-family:'Noto Sans CJK KR',sans-serif;font-weight:700;font-size:28.5px;line-height:36px;letter-spacing:0.2px;">확진자 연령대별</div>
<div class="abs" style="left:0;width:740px;top:1301px;text-align:center;color:#222;font-family:'Liberation Sans','Noto Sans CJK KR',sans-serif;font-size:12.5px;line-height:16px;letter-spacing:-0.4px;">3월 3일 0시, 4812명 기준</div>
<div class="abs" style="left:40.0px;top:1612.5px;width:35.5px;height:6.0px;background:linear-gradient(90deg,#4f3b7b 0,#4f3b7b 50%,#3e2e62 50%,#3e2e62 100%);"></div>
<div class="abs" style="left:-12.3px;width:140px;top:1580.2px;text-align:center;color:#38295d;font-family:'Noto Sans CJK KR',sans-serif;font-weight:900;font-size:25px;line-height:30px;letter-spacing:-0.6px;-webkit-text-stroke:0.7px currentColor;transform:scaleX(0.93);">34명</div>
<div class="abs" style="left:-12.3px;width:140px;top:1623px;text-align:center;color:#2a2a2a;font-family:'Liberation Sans','Noto Sans CJK KR',sans-serif;font-size:15px;line-height:16px;letter-spacing:0.2px;">0-9</div>
<div class="abs" style="left:118.5px;top:1580.0px;width:35.5px;height:38.5px;background:linear-gradient(90deg,#4f3b7b 0,#4f3b7b 50%,#3e2e62 50%,#3e2e62 100%);"></div>
<div class="abs" style="left:66.2px;width:140px;top:1547.7px;text-align:center;color:#38295d;font-family:'Noto Sans CJK KR',sans-serif;font-weight:900;font-size:25px;line-height:30px;letter-spacing:-0.6px;-webkit-text-stroke:0.7px currentColor;transform:scaleX(0.93);">233명</div>
<div class="abs" style="left:66.2px;width:140px;top:1623px;text-align:center;color:#2a2a2a;font-family:'Liberation Sans','Noto Sans CJK KR',sans-serif;font-size:15px;line-height:16px;letter-spacing:0.2px;">10-19</div>
<div class="abs" style="left:196.5px;top:1346.0px;width:35.5px;height:272.5px;background:linear-gradient(90deg,#0f9d82 0,#0f9d82 50%,#13806a 50%,#13806a 100%);"></div>
<div class="abs" style="left:144.2px;width:140px;top:1309.7px;text-align:center;color:#0e7f68;font-family:'Noto Sans CJK KR',sans-serif;font-weight:900;font-size:28px;line-height:30px;letter-spacing:-0.6px;-webkit-text-stroke:0.7px currentColor;transform:scaleX(0.93);">1575명</div>
<div class="abs" style="left:144.2px;width:140px;top:1623px;text-align:center;color:#2a2a2a;font-family:'Liberation Sans','Noto Sans CJK KR',sans-serif;font-size:15px;line-height:16px;letter-spacing:0.2px;">20-29</div>
<div class="abs" style="left:274.5px;top:1510.0px;width:35.5px;height:108.5px;background:linear-gradient(90deg,#4f3b7b 0,#4f3b7b 50%,#3e2e62 50%,#3e2e62 100%);"></div>
<div class="abs" style="left:222.2px;width:140px;top:1477.7px;text-align:center;color:#38295d;font-family:'Noto Sans CJK KR',sans-serif;font-weight:900;font-size:25px;line-height:30px;letter-spacing:-0.6px;-webkit-text-stroke:0.7px currentColor;transform:scaleX(0.87);">631명</div>
<div class="abs" style="left:222.2px;width:140px;top:1623px;text-align:center;color:#2a2a2a;font-family:'Liberation Sans','Noto Sans CJK KR',sans-serif;font-size:15px;line-height:16px;letter-spacing:0.2px;">30-39</div>
<div class="abs" style="left:353.0px;top:1482.5px;width:35.5px;height:136.0px;background:linear-gradient(90deg,#4f3b7b 0,#4f3b7b 50%,#3e2e62 50%,#3e2e62 100%);"></div>
<div class="abs" style="left:300.7px;width:140px;top:1450.2px;text-align:center;color:#38295d;font-family:'Noto Sans CJK KR',sans-serif;font-weight:900;font-size:25px;line-height:30px;letter-spacing:-0.6px;-webkit-text-stroke:0.7px currentColor;transform:scaleX(0.93);">790명</div>
<div class="abs" style="left:300.7px;width:140px;top:1623px;text-align:center;color:#2a2a2a;font-family:'Liberation Sans','Noto Sans CJK KR',sans-serif;font-size:15px;line-height:16px;letter-spacing:0.2px;">40-49</div>
<div class="abs" style="left:430.5px;top:1436.5px;width:35.5px;height:182.0px;background:linear-gradient(90deg,#4f3b7b 0,#4f3b7b 50%,#3e2e62 50%,#3e2e62 100%);"></div>
<div class="abs" style="left:378.2px;width:140px;top:1404.2px;text-align:center;color:#38295d;font-family:'Noto Sans CJK KR',sans-serif;font-weight:900;font-size:25px;line-height:30px;letter-spacing:-0.6px;-webkit-text-stroke:0.7px currentColor;transform:scaleX(0.77);">1051명</div>
<div class="abs" style="left:378.2px;width:140px;top:1623px;text-align:center;color:#2a2a2a;font-family:'Liberation Sans','Noto Sans CJK KR',sans-serif;font-size:15px;line-height:16px;letter-spacing:0.2px;">50-59</div>
<div class="abs" style="left:508.5px;top:1508.5px;width:35.5px;height:110.0px;background:linear-gradient(90deg,#4f3b7b 0,#4f3b7b 50%,#3e2e62 50%,#3e2e62 100%);"></div>
<div class="abs" style="left:456.2px;width:140px;top:1476.2px;text-align:center;color:#38295d;font-family:'Noto Sans CJK KR',sans-serif;font-weight:900;font-size:25px;line-height:30px;letter-spacing:-0.6px;-webkit-text-stroke:0.7px currentColor;transform:scaleX(0.93);">646명</div>
<div class="abs" style="left:456.2px;width:140px;top:1623px;text-align:center;color:#2a2a2a;font-family:'Liberation Sans','Noto Sans CJK KR',sans-serif;font-size:15px;line-height:16px;letter-spacing:0.2px;">60-69</div>
<div class="abs" style="left:586.5px;top:1573.5px;width:35.5px;height:45.0px;background:linear-gradient(90deg,#4f3b7b 0,#4f3b7b 50%,#3e2e62 50%,#3e2e62 100%);"></div>
<div class="abs" style="left:534.2px;width:140px;top:1541.2px;text-align:center;color:#38295d;font-family:'Noto Sans CJK KR',sans-serif;font-weight:900;font-size:25px;line-height:30px;letter-spacing:-0.6px;-webkit-text-stroke:0.7px currentColor;transform:scaleX(0.93);">260명</div>
<div class="abs" style="left:534.2px;width:140px;top:1623px;text-align:center;color:#2a2a2a;font-family:'Liberation Sans','Noto Sans CJK KR',sans-serif;font-size:15px;line-height:16px;letter-spacing:0.2px;">70-79</div>
<div class="abs" style="left:665.0px;top:1600.0px;width:35.5px;height:18.5px;background:linear-gradient(90deg,#4f3b7b 0,#4f3b7b 50%,#3e2e62 50%,#3e2e62 100%);"></div>
<div class="abs" style="left:612.7px;width:140px;top:1567.7px;text-align:center;color:#38295d;font-family:'Noto Sans CJK KR',sans-serif;font-weight:900;font-size:25px;line-height:30px;letter-spacing:-0.6px;-webkit-text-stroke:0.7px currentColor;transform:scaleX(0.91);">108명</div>
<div class="abs" style="left:612.7px;width:140px;top:1623px;text-align:center;color:#2a2a2a;font-family:'Liberation Sans','Noto Sans CJK KR',sans-serif;font-size:15px;line-height:16px;letter-spacing:0.2px;">80이상</div>
<div class="abs" style="left:0;top:1617.4px;width:740px;height:1.3px;background:#333;"></div>
<div class="abs" style="left:594px;top:1582px;font-family:'Noto Sans CJK KR',sans-serif;font-weight:500;font-size:41px;line-height:56px;letter-spacing:-4px;color:rgba(238,238,244,.55);transform:skewX(-20deg);transform-origin:left bottom;text-shadow:1px 1px 1px rgba(90,90,110,.22);">노컷뉴스</div>
</div></body></html>
